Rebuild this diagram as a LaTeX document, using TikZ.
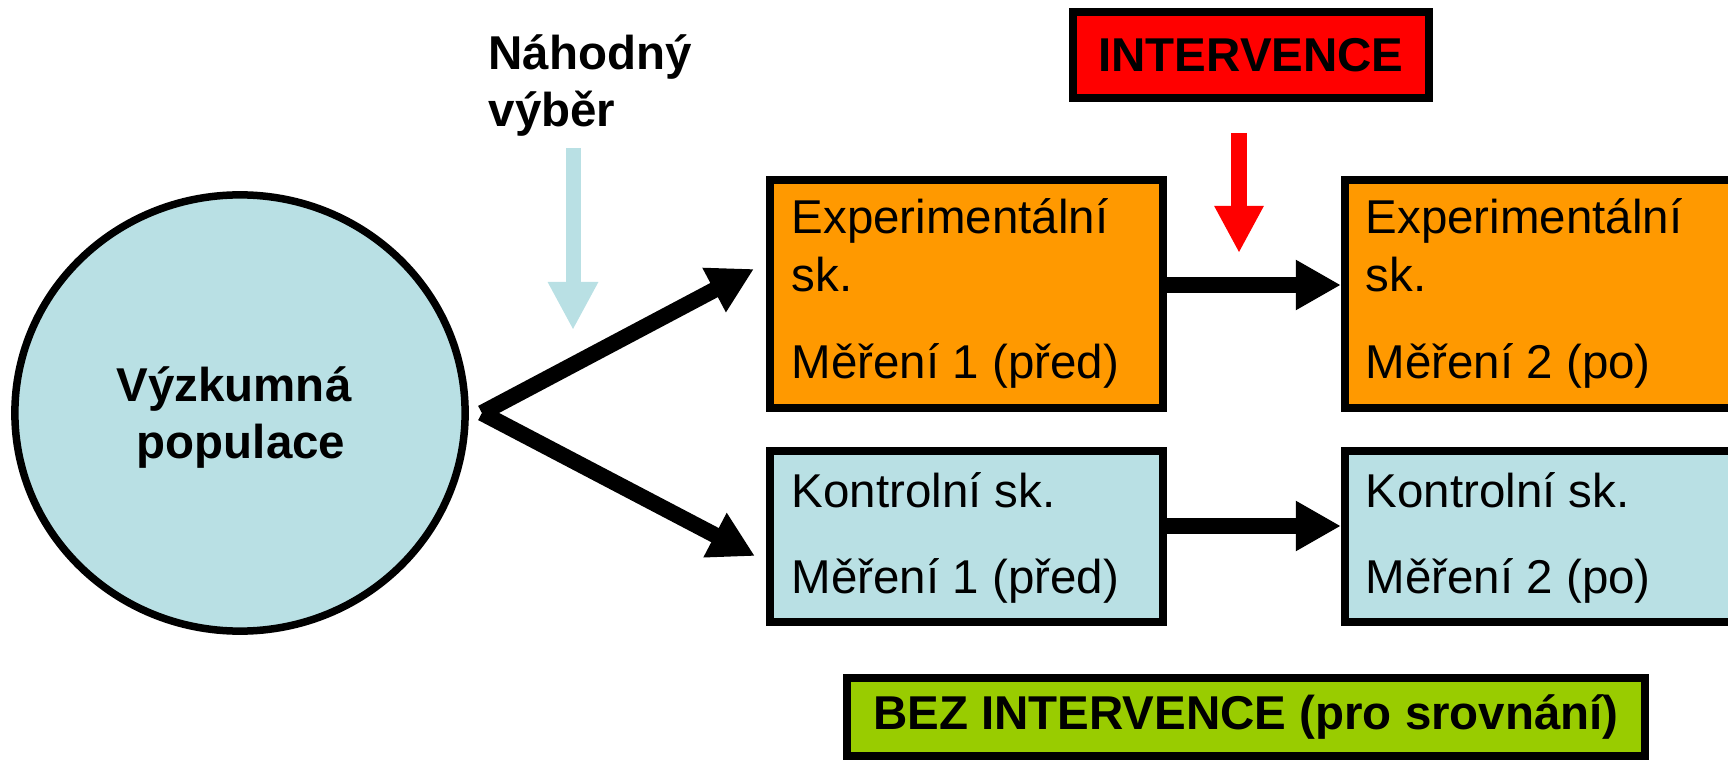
\documentclass[tikz,border=0pt]{standalone}
\usepackage{fontspec}
\setmainfont{Liberation Sans}
\usetikzlibrary{arrows.meta,shapes.geometric}
\definecolor{lblue}{RGB}{185,224,228}
\definecolor{orng}{RGB}{255,153,0}
\definecolor{grn}{RGB}{153,204,0}
\begin{document}
\begin{tikzpicture}[x=0.01cm,y=-0.01cm,
  every node/.style={font=\fontsize{13.5}{16}\selectfont,inner sep=0pt},
  box/.style={draw=black,line width=0.08cm},
  bigarrow/.style={line width=0.16cm,-{Triangle[length=0.45cm,width=0.47cm]}}]
\clip (0,0) rectangle (1728,761);
\node [ellipse,draw=black,line width=0.075cm,fill=lblue,minimum width=4.5cm,minimum height=4.36cm] (pop) at (240,413) {};
\node [anchor=base] (pop1) at (234,402) {\bfseries Výzkumná};
\node [anchor=base] (pop2) at (241,458) {\bfseries populace};
\node [anchor=base west] (nah1) at (488,70) {\bfseries Náhodný};
\node [anchor=base west] (nah2) at (488,127) {\bfseries výběr};
\node [box,fill=red,minimum width=3.56cm,minimum height=0.86cm] (int) at (1251,55) {\bfseries INTERVENCE};
\node [box,fill=orng,minimum width=3.93cm,minimum height=2.28cm] (e1) at (966.5,294) {};
\node [box,fill=orng,minimum width=3.93cm,minimum height=2.28cm] (e2) at (1541.5,294) {};
\node [box,fill=lblue,minimum width=3.93cm,minimum height=1.71cm] (k1) at (966.5,536.5) {};
\node [box,fill=lblue,minimum width=3.93cm,minimum height=1.71cm] (k2) at (1541.5,536.5) {};
\node [box,fill=grn,minimum width=7.98cm,minimum height=0.78cm] (bez) at (1246,717) {\bfseries BEZ INTERVENCE (pro srovnání)};
\node [anchor=base west] (e1a) at (791,234) {Experimentální};
\node [anchor=base west] (e1b) at (791,292) {sk.};
\node [anchor=base west] (e1c) at (791,378) {Měření 1 (před)};
\node [anchor=base west] (e2a) at (1365,234) {Experimentální};
\node [anchor=base west] (e2b) at (1365,292) {sk.};
\node [anchor=base west] (e2c) at (1365,378) {Měření 2 (po)};
\node [anchor=base west] (k1a) at (791,507) {Kontrolní sk.};
\node [anchor=base west] (k1b) at (791,593) {Měření 1 (před)};
\node [anchor=base west] (k2a) at (1365,507) {Kontrolní sk.};
\node [anchor=base west] (k2b) at (1365,593) {Měření 2 (po)};
\coordinate (selA) at (573,148);
\coordinate (selB) at (573,330);
\coordinate (intA) at (1239,133);
\coordinate (intB) at (1239,253);
\draw [lblue,line width=0.15cm,-{Triangle[length=0.48cm,width=0.47cm]}] (selA) -- (selB);
\draw [red,line width=0.16cm,-{Triangle[length=0.47cm,width=0.46cm]}] (intA) -- (intB);
\draw [bigarrow] ([xshift=0.13cm]pop.east) -- ([xshift=-0.12cm,yshift=0.25cm]e1.west);
\draw [bigarrow] ([xshift=0.13cm]pop.east) -- ([xshift=-0.11cm,yshift=-0.195cm]k1.west);
\draw [bigarrow] ([yshift=0.09cm]e1.east) -- ([yshift=0.09cm]e2.west);
\draw [bigarrow] ([yshift=0.105cm]k1.east) -- ([yshift=0.105cm]k2.west);
\end{tikzpicture}
\end{document}
